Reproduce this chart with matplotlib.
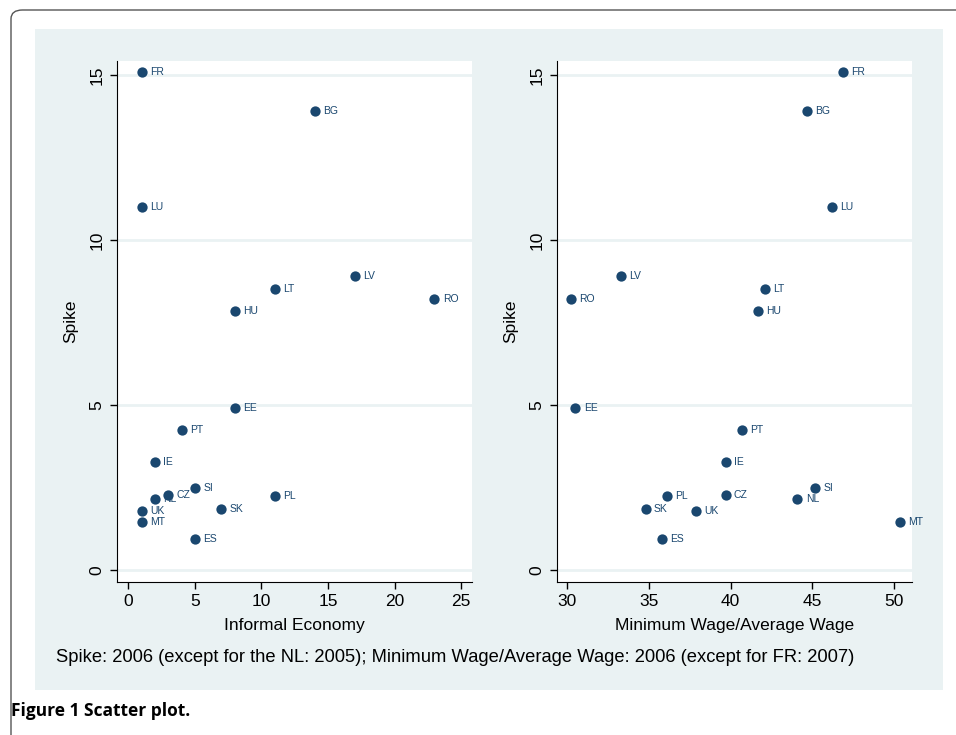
import matplotlib.pyplot as plt
from matplotlib.patches import Rectangle, FancyBboxPatch

plt.rcParams['font.family'] = ['Liberation Sans', 'DejaVu Sans']

countries = ['FR', 'BG', 'LU', 'LV', 'LT', 'RO', 'HU', 'EE', 'PT',
             'IE', 'SI', 'CZ', 'PL', 'NL', 'SK', 'UK', 'MT', 'ES']
spike = [15.1, 13.9, 11.0, 8.9, 8.5, 8.2, 7.85, 4.9, 4.23,
         3.28, 2.49, 2.29, 2.25, 2.16, 1.85, 1.79, 1.45, 0.95]
informal = [1, 14, 1, 17, 11, 23, 8, 8, 4,
            2, 5, 3, 11, 2, 7, 1, 1, 5]
minwage = [46.9, 44.7, 46.2, 33.3, 42.1, 30.2, 41.7, 30.5, 40.7,
           39.7, 45.2, 39.7, 36.1, 44.1, 34.8, 37.9, 50.4, 35.8]

W, H = 956, 735
NAVY = '#1a476f'
BG = '#eaf2f3'

fig = plt.figure(figsize=(W / 100, H / 100), dpi=100)

def fx(px):
    return px / W

def fy(py):
    return 1 - py / H

# outer frame and shaded panel (behind the axes)
fig.patches.append(FancyBboxPatch((fx(11), fy(760)), fx(980) - fx(11), fy(10) - fy(760),
                                  boxstyle='round,pad=0,rounding_size=0.012',
                                  transform=fig.transFigure, facecolor='white',
                                  edgecolor='#555555', linewidth=1.0, zorder=-2))
fig.patches.append(Rectangle((fx(35), fy(690)), fx(943) - fx(35), fy(29) - fy(690),
                             transform=fig.transFigure, facecolor=BG,
                             edgecolor='none', zorder=-1))

def panel(left, right, xvals, xlim, xticks, xlabel):
    ax = fig.add_axes([fx(left), fy(581.7), fx(right) - fx(left), fy(61) - fy(581.7)])
    ax.set_facecolor('white')
    ax.scatter(xvals, spike, s=55, color=NAVY, zorder=3, linewidths=0)
    for c, x, y in zip(countries, xvals, spike):
        ax.annotate(c, (x, y), xytext=(6, 0), textcoords='offset points',
                    va='center', ha='left', fontsize=7.5, color=NAVY)
    ax.set_xlim(*xlim)
    ax.set_ylim(-0.35, 15.42)
    ax.set_xticks(xticks)
    ax.set_yticks([0, 5, 10, 15])
    for v in [0, 5, 10, 15]:
        ax.axhline(v, color=BG, linewidth=2, zorder=1)
    for s in ['top', 'right']:
        ax.spines[s].set_visible(False)
    ax.tick_params(direction='out', length=5, width=1, labelsize=12.5, pad=4)
    ax.tick_params(axis='y', labelrotation=90)
    for lab in ax.get_yticklabels():
        lab.set_va('center')
    ax.set_xlabel(xlabel, fontsize=12.5, labelpad=6)
    ax.set_ylabel('Spike', fontsize=12.5, labelpad=8)
    return ax

panel(117, 471.7, informal, (-0.85, 25.8), [0, 5, 10, 15, 20, 25], 'Informal Economy')
panel(556.7, 911.7, minwage, (29.35, 51.1), [30, 35, 40, 45, 50], 'Minimum Wage/Average Wage')

fig.text(fx(56), fy(657),
         'Spike: 2006 (except for the NL: 2005); Minimum Wage/Average Wage: 2006 (except for FR: 2007)',
         fontsize=13.2, va='center', ha='left')
fig.text(fx(11), fy(711), 'Figure 1 Scatter plot.', fontsize=12.5, fontweight='bold',
         va='center', ha='left', family=['Open Sans', 'DejaVu Sans'])

fig.savefig('out.png', dpi=100)
